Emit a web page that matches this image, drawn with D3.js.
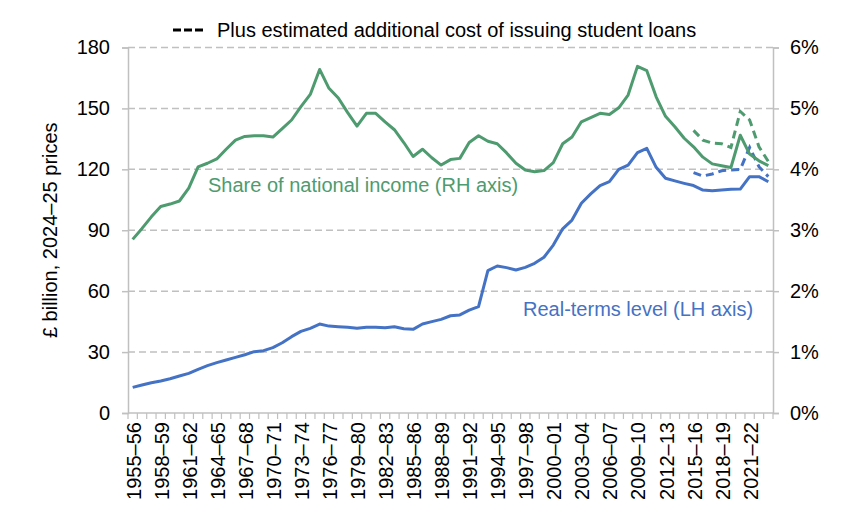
<!DOCTYPE html>
<html>
<head>
<meta charset="utf-8">
<script src="https://cdn.jsdelivr.net/npm/d3@7"></script>
<style>
  body { margin: 0; background: #fff; }
  svg { display: block; font-family: "Liberation Sans", Arial, sans-serif; }
</style>
</head>
<body>
<div id="chart"></div>
<script>
// categories: financial years
const years = [
  "1955–56","1956–57","1957–58","1958–59","1959–60","1960–61","1961–62","1962–63","1963–64","1964–65",
  "1965–66","1966–67","1967–68","1968–69","1969–70","1970–71","1971–72","1972–73","1973–74","1974–75",
  "1975–76","1976–77","1977–78","1978–79","1979–80","1980–81","1981–82","1982–83","1983–84","1984–85",
  "1985–86","1986–87","1987–88","1988–89","1989–90","1990–91","1991–92","1992–93","1993–94","1994–95",
  "1995–96","1996–97","1997–98","1998–99","1999–00","2000–01","2001–02","2002–03","2003–04","2004–05",
  "2005–06","2006–07","2007–08","2008–09","2009–10","2010–11","2011–12","2012–13","2013–14","2014–15",
  "2015–16","2016–17","2017–18","2018–19","2019–20","2020–21","2021–22","2022–23","2023–24"
];

// £ billion, 2024–25 prices (LH axis)
const realTerms = [
  12.6, 13.8, 14.9, 15.8, 16.9, 18.2, 19.5, 21.5, 23.3, 24.8,
  26.1, 27.4, 28.7, 30.2, 30.7, 32.2, 34.6, 37.6, 40.2, 41.7,
  43.8, 42.8, 42.5, 42.2, 41.7, 42.2, 42.2, 42.0, 42.5, 41.5,
  41.2, 43.8, 45.0, 46.1, 47.9, 48.3, 50.7, 52.4, 70.1, 72.4,
  71.6, 70.4, 71.7, 73.7, 76.7, 82.7, 90.7, 95.0, 103.3, 107.9,
  112.0, 113.9, 120.0, 122.1, 128.2, 130.3, 121.0, 115.6, 114.3, 113.1,
  112.0, 109.8, 109.5, 109.8, 110.2, 110.3, 116.4, 116.4, 113.9
];

// % of national income (RH axis)
const share = [
  2.85, 3.03, 3.22, 3.39, 3.43, 3.48, 3.69, 4.04, 4.10, 4.17,
  4.33, 4.48, 4.54, 4.55, 4.55, 4.53, 4.67, 4.81, 5.03, 5.23,
  5.64, 5.33, 5.17, 4.93, 4.71, 4.92, 4.92, 4.78, 4.65, 4.44,
  4.21, 4.33, 4.19, 4.07, 4.16, 4.18, 4.44, 4.55, 4.46, 4.42,
  4.27, 4.10, 3.99, 3.96, 3.98, 4.11, 4.42, 4.53, 4.78, 4.85,
  4.92, 4.90, 5.01, 5.22, 5.69, 5.62, 5.19, 4.87, 4.70, 4.51,
  4.37, 4.20, 4.09, 4.06, 4.03, 4.56, 4.25, 4.14, 4.06
];

// plus estimated additional cost of issuing student loans, from 2015–16
const loanYears = ["2015–16","2016–17","2017–18","2018–19","2019–20","2020–21","2021–22","2022–23","2023–24"];
const realTermsLoans = [118.4, 116.7, 117.7, 119.3, 119.7, 120.0, 130.8, 121.3, 116.4];
const shareLoans = [4.64, 4.48, 4.43, 4.42, 4.36, 4.95, 4.81, 4.37, 4.13];

const leftTicks = [0, 30, 60, 90, 120, 150, 180];
const rightTicks = [0, 1, 2, 3, 4, 5, 6];

const W = 848, H = 521;
const margin = { top: 47.5, right: 75, bottom: 108, left: 128 };
const width = W - margin.left - margin.right,
      height = H - margin.top - margin.bottom;

const blue = "#4472c4", green = "#4e9b6f", grid = "#c0c0c0";
const fs = 20;

const svg = d3.select("#chart").append("svg")
    .attr("width", W)
    .attr("height", H);

const g = svg.append("g")
    .attr("transform", `translate(${margin.left},${margin.top})`);

const x = d3.scaleBand().domain(years).range([0, width]).padding(0);
const yL = d3.scaleLinear().domain([0, 180]).range([height, 0]);
const yR = d3.scaleLinear().domain([0, 6]).range([height, 0]);
const cx = d => x(d) + x.bandwidth() / 2;

// gridlines
g.selectAll(".grid")
    .data(leftTicks.filter(d => d > 0))
    .enter().append("line")
    .attr("x1", 0).attr("x2", width)
    .attr("y1", d => yL(d)).attr("y2", d => yL(d))
    .attr("stroke", grid)
    .attr("stroke-width", 1.5)
    .attr("stroke-dasharray", "7,4");

// left axis
const axL = g.append("g")
    .call(d3.axisLeft(yL).tickValues(leftTicks).tickSize(6).tickPadding(12));
// right axis
const axR = g.append("g")
    .attr("transform", `translate(${width},0)`)
    .call(d3.axisRight(yR).tickValues(rightTicks).tickSize(6).tickPadding(11).tickFormat(d => d + "%"));

[axL, axR].forEach(ax => {
    ax.select(".domain").attr("stroke", grid).attr("stroke-width", 1.5);
    ax.selectAll(".tick line").attr("stroke", grid).attr("stroke-width", 1.5);
    ax.selectAll(".tick text").attr("font-size", fs).attr("fill", "#000")
        .attr("font-family", "Liberation Sans, Arial, sans-serif");
});

// x axis line + category boundary ticks
g.append("line")
    .attr("x1", 0).attr("x2", width)
    .attr("y1", height).attr("y2", height)
    .attr("stroke", grid).attr("stroke-width", 1.5);

g.selectAll(".xtick")
    .data(years.concat(["end"]))
    .enter().append("line")
    .attr("x1", d => d === "end" ? width : x(d))
    .attr("x2", d => d === "end" ? width : x(d))
    .attr("y1", height).attr("y2", height + 6)
    .attr("stroke", grid).attr("stroke-width", 1.2);

g.selectAll(".xlabel")
    .data(years.filter((d, i) => i % 3 === 0))
    .enter().append("text")
    .attr("transform", d => `translate(${cx(d) + 8},${height + 9}) rotate(-90)`)
    .attr("text-anchor", "end")
    .attr("font-size", fs)
    .attr("fill", "#000")
    .text(d => d);

// axis title
g.append("text")
    .attr("transform", `translate(${57 - margin.left},${height / 2}) rotate(-90)`)
    .attr("text-anchor", "middle")
    .attr("font-size", fs)
    .attr("fill", "#000")
    .text("£ billion, 2024–25 prices");

// lines
const lineL = d3.line().x(d => cx(d[0])).y(d => yL(d[1]));
const lineR = d3.line().x(d => cx(d[0])).y(d => yR(d[1]));

g.append("path")
    .attr("d", lineR(d3.zip(loanYears, shareLoans)))
    .attr("fill", "none").attr("stroke", green).attr("stroke-width", 3)
    .attr("stroke-dasharray", "8,5");

g.append("path")
    .attr("d", lineL(d3.zip(loanYears, realTermsLoans)))
    .attr("fill", "none").attr("stroke", blue).attr("stroke-width", 3)
    .attr("stroke-dasharray", "8,5");

g.append("path")
    .attr("d", lineR(d3.zip(years, share)))
    .attr("fill", "none").attr("stroke", green).attr("stroke-width", 3)
    .attr("stroke-linejoin", "round");

g.append("path")
    .attr("d", lineL(d3.zip(years, realTerms)))
    .attr("fill", "none").attr("stroke", blue).attr("stroke-width", 3)
    .attr("stroke-linejoin", "round");

// series labels
g.append("text")
    .attr("x", 208 - margin.left).attr("y", 192 - margin.top)
    .attr("font-size", fs).attr("fill", green)
    .text("Share of national income (RH axis)");

g.append("text")
    .attr("x", 523 - margin.left).attr("y", 316 - margin.top)
    .attr("font-size", fs).attr("fill", blue)
    .text("Real-terms level (LH axis)");

// legend
const legend = svg.append("g").attr("transform", "translate(173,30)");
legend.append("line")
    .attr("x1", 0).attr("x2", 30).attr("y1", 0).attr("y2", 0)
    .attr("stroke", "#000").attr("stroke-width", 3)
    .attr("stroke-dasharray", "8,3");
legend.append("text")
    .attr("x", 44).attr("y", 7)
    .attr("font-size", fs).attr("fill", "#000")
    .text("Plus estimated additional cost of issuing student loans");
</script>
</body>
</html>
